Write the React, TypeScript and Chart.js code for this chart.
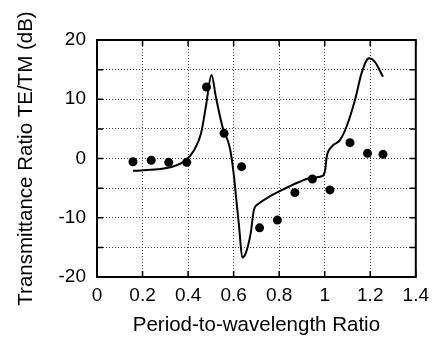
import React, { useEffect, useRef } from "react";
import { Chart, registerables } from "chart.js";

Chart.register(...registerables);

// Measured points (filled circles)
const measX = [0.158, 0.238, 0.315, 0.394, 0.481, 0.558, 0.635, 0.714, 0.792, 0.869, 0.946, 1.023, 1.111, 1.188, 1.256];
const measY = [-0.54, -0.3, -0.65, -0.65, 12.07, 4.25, -1.38, -11.7, -10.4, -5.77, -3.46, -5.3, 2.67, 0.87, 0.7];

// Theory curve (solid line)
const curveX = [0.158, 0.267, 0.34, 0.391, 0.427, 0.457, 0.478, 0.503, 0.522, 0.551, 0.584, 0.6, 0.612, 0.624, 0.638, 0.653, 0.675, 0.689, 0.711, 0.75, 0.798, 0.885, 0.943, 0.99, 1.002, 1.009, 1.031, 1.067, 1.096, 1.133, 1.162, 1.194, 1.22, 1.256];
const curveY = [-2.06, -1.83, -1.27, -0.25, 1.43, 4.25, 8.74, 14.1, 10.4, 5.37, 1.7, -2.5, -7, -11.5, -16.7, -16.0, -12.6, -8.7, -7.6, -6.6, -5.6, -4.0, -3.24, -2.95, -1.94, 0.3, 2.0, 3.1, 5.4, 9.87, 14.4, 16.9, 16.3, 13.8];

const xTicks = [0, 0.2, 0.4, 0.6, 0.8, 1, 1.2, 1.4];
const yLabelled = [-20, -10, 0, 10, 20];

const xTitle = "Period-to-wavelength Ratio";
const yTitle = "Transmittance Ratio TE/TM (dB)";

const FONT = "'Liberation Sans', Arial, Helvetica, sans-serif";

const framePlugin = {
  id: "frame",
  afterDraw(chart: any) {
    const { ctx, chartArea } = chart;
    const xs = chart.scales.x;
    const ys = chart.scales.y;
    ctx.save();
    ctx.strokeStyle = "#000";
    ctx.lineWidth = 1.5;
    const tl = 6;
    xs.ticks.forEach((t: any) => {
      const px = xs.getPixelForValue(t.value);
      ctx.beginPath();
      ctx.moveTo(px, chartArea.bottom);
      ctx.lineTo(px, chartArea.bottom - tl);
      ctx.moveTo(px, chartArea.top);
      ctx.lineTo(px, chartArea.top + tl);
      ctx.stroke();
    });
    ys.ticks.forEach((t: any) => {
      const py = ys.getPixelForValue(t.value);
      ctx.beginPath();
      ctx.moveTo(chartArea.left, py);
      ctx.lineTo(chartArea.left + tl, py);
      ctx.moveTo(chartArea.right, py);
      ctx.lineTo(chartArea.right - tl, py);
      ctx.stroke();
    });
    ctx.lineWidth = 2;
    ctx.strokeRect(chartArea.left, chartArea.top, chartArea.right - chartArea.left, chartArea.bottom - chartArea.top);
    ctx.restore();
  },
};

export default function App() {
  const ref = useRef<HTMLCanvasElement | null>(null);

  useEffect(() => {
    if (!ref.current) return;
    const chart = new Chart(ref.current, {
      type: "scatter",
      data: {
        datasets: [
          {
            label: "theory",
            data: curveX.map((x, i) => ({ x, y: curveY[i] })),
            showLine: true,
            borderColor: "#000",
            borderWidth: 2,
            pointRadius: 0,
            cubicInterpolationMode: "monotone",
            fill: false,
          } as any,
          {
            label: "measured",
            data: measX.map((x, i) => ({ x, y: measY[i] })),
            showLine: false,
            backgroundColor: "#000",
            borderColor: "#000",
            pointRadius: 4.5,
            pointBorderWidth: 0,
          },
        ],
      },
      options: {
        animation: false,
        responsive: false,
        maintainAspectRatio: false,
        layout: { padding: { top: 40, right: 18, left: 0, bottom: 0 } },
        plugins: { legend: { display: false }, tooltip: { enabled: false } },
        scales: {
          x: {
            type: "linear",
            min: 0,
            max: 1.4,
            afterFit: (s: any) => {
              s.height = 62;
            },
            afterBuildTicks: (s: any) => {
              s.ticks = xTicks.map((v) => ({ value: v }));
            },
            grid: { color: "#444", lineWidth: 1, drawTicks: false },
            border: { display: false, dash: [1, 2] },
            ticks: {
              padding: 7,
              color: "#000",
              maxRotation: 0,
              autoSkip: false,
              font: { family: FONT, size: 19 },
              callback: (v: any) => String(Math.round(Number(v) * 10) / 10),
            },
            title: {
              display: true,
              text: xTitle,
              color: "#000",
              font: { family: FONT, size: 20.5 },
              padding: { top: 0, bottom: 1 },
            },
          },
          y: {
            type: "linear",
            min: -20,
            max: 20,
            afterFit: (s: any) => {
              s.width = 97;
            },
            grid: { color: "#444", lineWidth: 1, drawTicks: false },
            border: { display: false, dash: [1, 2] },
            ticks: {
              stepSize: 5,
              padding: 11,
              color: "#000",
              autoSkip: false,
              font: { family: FONT, size: 19 },
              callback: (v: any) => (yLabelled.includes(Number(v)) ? String(v) : ""),
            },
            title: {
              display: true,
              text: yTitle,
              color: "#000",
              font: { family: FONT, size: 20.5 },
              padding: { top: 14, bottom: 0 },
            },
          },
        },
      },
      plugins: [framePlugin],
    });
    return () => chart.destroy();
  }, []);

  return (
    <div style={{ position: "fixed", left: 0, top: 0, width: 436, height: 339, background: "#fff" }}>
      <canvas ref={ref} width={436} height={339} style={{ width: 436, height: 339, display: "block" }} />
    </div>
  );
}
